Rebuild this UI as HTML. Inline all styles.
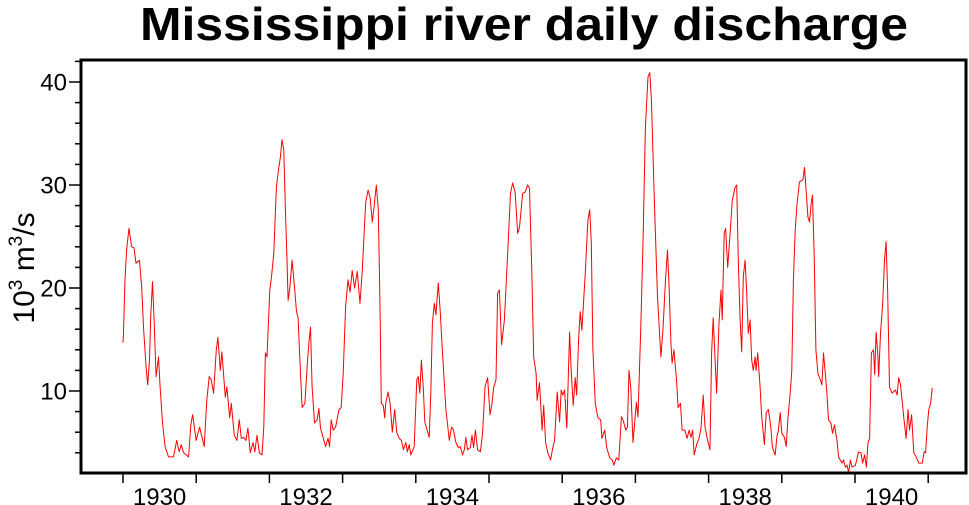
<!DOCTYPE html>
<html><head><meta charset="utf-8"><style>
html,body{margin:0;padding:0;background:#fff;}
svg{display:block;font-family:"Liberation Sans",Arial,sans-serif;}
</style></head><body>
<svg id="chart" width="969" height="505" viewBox="0 0 969 505" xmlns="http://www.w3.org/2000/svg">
<defs><clipPath id="clip"><rect x="81" y="60" width="885" height="413"/></clipPath></defs>
<text x="524" y="40" text-anchor="middle" font-size="46" font-weight="bold" textLength="768" lengthAdjust="spacingAndGlyphs">Mississippi river daily discharge</text>
<text transform="translate(34,268) rotate(-90)" text-anchor="middle" font-size="30">10<tspan font-size="19" dy="-12">3</tspan><tspan dy="12"> m</tspan><tspan font-size="19" dy="-12">3</tspan><tspan dy="12">/s</tspan></text>
<g id="axes"></g>
<g id="series" clip-path="url(#clip)"></g>
<rect x="81" y="60" width="885" height="413" fill="none" stroke="#000" stroke-width="3"/>
</svg>
<script>
const days = [0,2,10,18,30,43,55,65,82,93,102,115,123,132,138,147,155,165,177,185,197,210,227,252,268,280,290,302,327,338,347,365,382,405,418,430,440,452,465,473,485,493,510,518,532,540,555,568,580,590,602,613,623,635,648,657,668,680,693,702,710,718,732,740,752,765,777,785,793,802,810,818,823,832,843,855,865,873,882,893,907,918,927,935,943,955,968,977,985,998,1010,1022,1030,1038,1048,1060,1077,1088,1098,1110,1122,1132,1143,1155,1168,1182,1193,1202,1210,1222,1232,1243,1252,1263,1273,1282,1288,1298,1305,1310,1322,1332,1343,1355,1365,1377,1388,1398,1410,1418,1427,1435,1452,1465,1472,1480,1488,1498,1505,1527,1535,1543,1552,1560,1572,1582,1593,1610,1627,1638,1648,1660,1672,1682,1693,1702,1710,1718,1732,1740,1748,1757,1768,1782,1793,1805,1818,1830,1840,1848,1860,1868,1877,1888,1902,1918,1932,1943,1955,1968,1977,1993,2005,2018,2027,2038,2048,2060,2065,2077,2090,2098,2107,2118,2132,2143,2152,2165,2177,2185,2193,2202,2213,2227,2235,2245,2255,2262,2272,2280,2288,2305,2318,2327,2335,2343,2355,2368,2382,2388,2402,2412,2427,2440,2448,2460,2472,2485,2493,2507,2515,2523,2532,2543,2560,2568,2582,2593,2605,2618,2627,2635,2648,2665,2682,2693,2705,2715,2723,2732,2738,2747,2760,2768,2780,2788,2802,2813,2823,2832,2840,2848,2860,2872,2882,2893,2902,2915,2927,2935,2943,2960,2972,2982,2988,2998,3005,3015,3027,3038,3052,3060,3068,3077,3085,3093,3102,3110,3118,3127,3135,3143,3152,3157,3165,3177,3185,3198,3207,3218,3230,3238,3252,3260,3268,3277,3285,3298,3307,3315,3327,3335,3343,3352,3360,3373,3390,3398,3407,3415,3423,3432,3438,3447,3455,3465,3477,3485,3493,3502,3510,3518,3530,3538,3548,3560,3568,3585,3593,3602,3610,3618,3627,3635,3652,3668,3680,3688,3698,3707,3715,3723,3732,3742,3748,3755,3763,3768,3777,3788,3797,3805,3813,3822,3835,3852,3860,3868,3877,3885,3893,3905,3915,3922,3932,3943,3955,3968,3985,3995,4002,4010,4018,4027,4035];
const discharge = [14.7,15.4,20.8,23.7,25.8,24.0,23.9,22.4,22.7,20.1,16.2,12.3,10.6,13.0,17.2,20.6,16.9,11.4,13.3,10.4,6.9,4.6,3.6,3.6,5.2,4.1,4.8,4.0,3.6,6.7,7.7,5.2,6.5,4.6,9.1,11.4,11.1,9.8,14.0,15.2,12.0,13.8,9.4,10.4,7.4,8.8,5.7,5.2,7.2,5.4,5.5,5.2,6.4,4.0,5.0,4.1,5.7,4.0,3.8,6.5,13.7,13.3,19.8,21.0,23.4,29.8,31.7,32.7,34.4,33.4,27.6,22.7,18.8,20.1,22.7,20.1,17.7,17.1,13.0,8.4,8.8,12.3,14.7,16.2,10.4,6.9,7.2,8.3,6.4,5.5,4.6,5.4,4.6,7.2,6.2,6.5,8.2,8.4,11.7,18.2,20.8,19.6,21.7,20.0,21.6,18.5,21.7,25.3,28.3,29.5,28.8,26.4,27.9,30.0,27.6,17.6,8.8,8.6,7.4,8.8,9.9,8.8,6.0,8.2,6.0,5.4,5.2,4.3,5.0,4.1,4.8,3.8,4.6,11.1,11.4,9.8,13.0,10.1,7.0,5.5,9.8,16.6,18.5,17.4,20.5,17.6,13.7,8.2,5.2,6.5,6.2,5.0,4.5,4.6,3.8,4.3,5.5,4.3,4.5,5.7,4.5,6.2,4.3,4.1,5.9,10.4,11.3,7.7,8.8,10.3,11.1,19.5,19.8,14.5,16.9,23.4,29.2,30.2,29.3,25.3,25.9,29.2,29.3,30.0,29.7,22.0,13.3,11.7,9.1,10.8,6.2,8.6,5.0,4.0,3.3,4.5,5.2,9.9,7.0,10.1,9.6,10.1,6.4,15.7,12.0,8.6,11.3,9.6,15.0,17.7,15.9,21.5,26.6,27.6,24.4,14.0,8.8,7.4,7.2,5.4,6.2,4.5,3.5,3.3,2.8,3.5,3.3,7.5,7.2,6.2,6.5,12.0,10.3,5.0,8.9,7.5,16.2,24.4,35.6,40.5,40.9,38.3,29.2,19.1,13.3,16.2,20.8,23.7,20.1,14.7,12.7,14.0,11.1,8.4,8.8,6.2,6.2,5.4,6.2,5.5,6.2,3.8,4.8,5.4,6.4,9.6,6.5,5.2,4.3,13.7,17.1,9.8,16.6,19.8,16.9,25.3,25.8,22.0,25.3,28.5,29.8,30.0,22.7,16.9,13.8,21.1,22.7,19.5,15.6,16.9,13.0,12.0,13.3,12.0,13.7,10.4,7.5,4.8,7.9,8.2,6.5,4.5,3.8,5.5,6.2,7.9,5.9,5.5,4.6,7.2,9.8,12.0,20.8,25.6,27.9,30.3,30.5,31.7,29.2,26.9,26.4,28.3,29.0,22.7,14.0,11.7,11.1,10.6,13.7,11.7,9.8,7.2,6.9,5.9,6.7,5.2,3.6,3.0,3.3,2.6,2.8,2.1,3.3,2.6,2.8,4.1,4.0,3.0,3.8,2.6,5.0,5.4,13.7,14.0,11.6,15.7,13.7,11.4,15.6,18.5,22.7,24.5,19.5,10.4,9.8,10.1,9.6,11.3,10.6,9.1,7.5,5.4,8.2,6.2,7.7,4.0,3.6,3.0,3.0,4.1,4.0,6.5,8.2,8.8,10.3];
const yTicks = [10,20,30,40];
const yMinor = [4,6,8,12,14,16,18,22,24,26,28,32,34,36,38,42];
const yearLabels = ["1930","1932","1934","1936","1938","1940"];
const startYear = 1930;

const NS = "http://www.w3.org/2000/svg";
const PXY = 73.2;
function xScale(d){ return 123 + d * PXY / 365; }
function xYear(y){ return 123 + (y - startYear) * PXY; }
function yScale(v){ return 494 - v * 10.3; }
function mk(tag, attrs, parent){
  const e = document.createElementNS(NS, tag);
  for (const k in attrs) e.setAttribute(k, attrs[k]);
  parent.appendChild(e);
  return e;
}
const axes = document.getElementById('axes');
yTicks.forEach(v => {
  const y = yScale(v);
  const t = mk('line', {x1:69, x2:81, y1:y, y2:y, stroke:'#000', 'stroke-width':1.5}, axes);
  
  
  const l = mk('text', {x:67, y:y+8.5, 'text-anchor':'end', 'font-size':24}, axes);
  l.textContent = String(v);
  
  
});
yMinor.forEach(v => {
  const y = yScale(v);
  if (y < 60 || y > 473) return;
  const t = mk('line', {x1:75, x2:81, y1:y, y2:y, stroke:'#000', 'stroke-width':1.5}, axes);
  
  
});
for (let yr = 1930; yr <= 1941; yr++) {
  const x = xYear(yr);
  const t = mk('line', {x1:x, x2:x, y1:473, y2:483, stroke:'#000', 'stroke-width':1.5}, axes);
  
  
}
yearLabels.forEach(s => {
  const x = xYear(parseInt(s, 10) + 0.5);
  const l = mk('text', {x:x, y:505, 'text-anchor':'middle', 'font-size':24}, axes);
  l.textContent = s;
  
  
});
const pts = days.map((d, i) => xScale(d).toFixed(1) + ',' + yScale(discharge[i]).toFixed(1)).join(' ');
const line = mk('polyline', {points:pts, fill:'none', stroke:'#ff0000', 'stroke-width':1, 'stroke-linejoin':'round'}, document.getElementById('series'));


</script>
</body></html>
